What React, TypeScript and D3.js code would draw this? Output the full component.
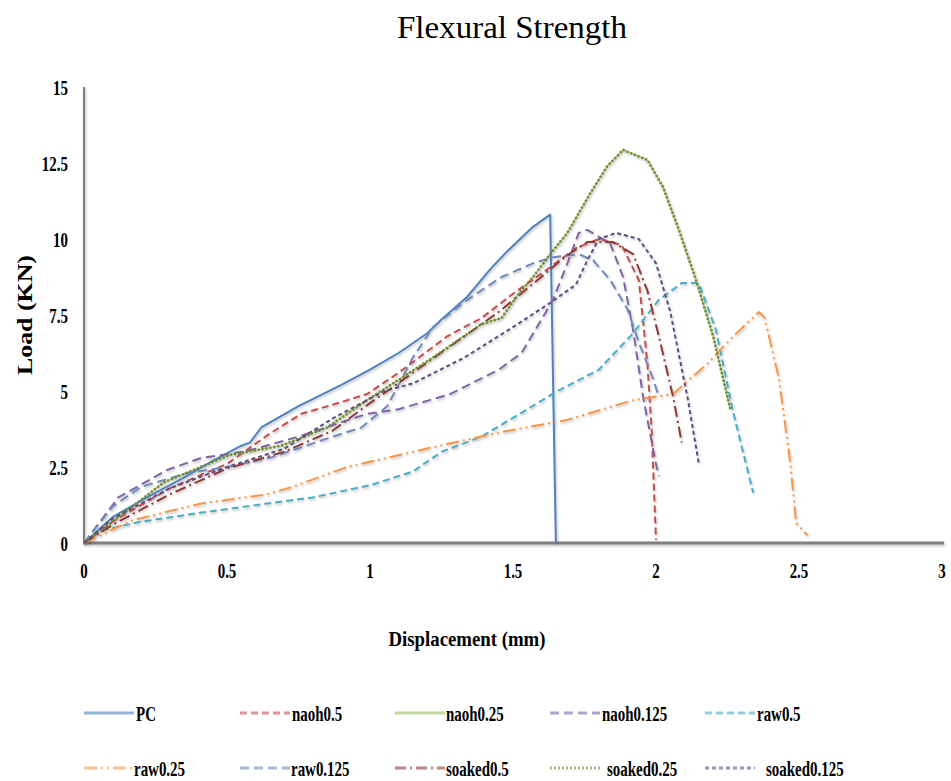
import React from "react";
import * as d3 from "d3";

// displacement (mm), load (kN) pairs
const pc = [
  [0, 0], [0.1, 0.85], [0.22, 1.5], [0.34, 2.1], [0.45, 2.7], [0.55, 3.2], [0.58, 3.3],
  [0.62, 3.8], [0.75, 4.5], [0.9, 5.2], [1.0, 5.7], [1.1, 6.25], [1.2, 6.9],
  [1.25, 7.35], [1.34, 8.1], [1.42, 9.0], [1.48, 9.6], [1.57, 10.4], [1.63, 10.8],
  [1.65, 0]
];
const naoh05 = [
  [0, 0], [0.1, 0.7], [0.3, 1.8], [0.5, 2.6], [0.65, 3.6], [0.76, 4.25], [0.87, 4.55],
  [0.99, 4.9], [1.1, 5.6], [1.27, 6.8], [1.39, 7.4], [1.5, 8.2], [1.62, 9.0],
  [1.72, 9.7], [1.8, 10.0], [1.88, 9.8], [1.94, 8.65], [1.97, 5.9], [1.985, 3.7],
  [2.0, 0.1]
];
const naoh025 = [
  [0, 0], [0.1, 0.7], [0.28, 2.0], [0.51, 2.9], [0.69, 3.2], [0.85, 3.8], [0.99, 4.7],
  [1.22, 6.1], [1.39, 7.2], [1.46, 7.4], [1.52, 8.2], [1.57, 8.75], [1.63, 9.5],
  [1.69, 10.2], [1.77, 11.5], [1.83, 12.4], [1.885, 12.93], [1.97, 12.6],
  [2.025, 11.7], [2.08, 10.3], [2.14, 8.65], [2.2, 6.8], [2.26, 4.4]
];
const naoh0125 = [
  [0, 0], [0.12, 1.5], [0.29, 2.4], [0.41, 2.8], [0.52, 2.95], [0.6, 3.1], [0.75, 3.5],
  [0.99, 4.25], [1.1, 4.4], [1.28, 4.9], [1.45, 5.7], [1.53, 6.25], [1.64, 8.0],
  [1.69, 9.2], [1.73, 10.2], [1.76, 10.3], [1.84, 9.85], [1.885, 8.75], [1.92, 7.0],
  [1.955, 4.8], [2.0, 2.6], [2.01, 2.2]
];
const raw05 = [
  [0, 0], [0.05, 0.4], [0.2, 0.7], [0.41, 1.0], [0.64, 1.3], [0.8, 1.5], [1.0, 1.9],
  [1.15, 2.35], [1.25, 3.0], [1.39, 3.5], [1.55, 4.4], [1.65, 4.97], [1.8, 5.7],
  [1.92, 6.9], [2.01, 8.0], [2.09, 8.55], [2.15, 8.55], [2.21, 7.0], [2.27, 4.3],
  [2.34, 1.65]
];
const raw025 = [
  [0, 0], [0.17, 0.75], [0.41, 1.3], [0.64, 1.6], [0.73, 1.85], [0.92, 2.5],
  [1.22, 3.15], [1.46, 3.65], [1.69, 4.05], [1.92, 4.7], [2.06, 4.9], [2.18, 5.9],
  [2.27, 6.8], [2.36, 7.6], [2.38, 7.4], [2.43, 5.4], [2.47, 2.6], [2.49, 0.65],
  [2.53, 0.25]
];
const raw0125 = [
  [0, 0], [0.1, 1.2], [0.2, 1.85], [0.36, 2.3], [0.5, 2.5], [0.65, 2.8], [0.76, 3.15],
  [0.87, 3.5], [0.97, 3.8], [1.06, 4.5], [1.15, 6.1], [1.22, 7.1], [1.34, 8.0],
  [1.46, 8.75], [1.57, 9.2], [1.64, 9.4], [1.73, 9.5], [1.78, 9.3], [1.84, 8.65],
  [1.9, 7.7], [1.94, 6.6], [1.99, 5.4], [2.01, 4.8]
];
const soaked05 = [
  [0, 0], [0.1, 0.6], [0.3, 1.6], [0.5, 2.45], [0.7, 3.0], [0.87, 3.7], [1.0, 4.6],
  [1.15, 5.6], [1.3, 6.6], [1.45, 7.6], [1.58, 8.6], [1.68, 9.4], [1.76, 9.9],
  [1.85, 9.9], [1.92, 9.5], [1.97, 8.3], [2.01, 6.8], [2.06, 4.8], [2.09, 3.3]
];
const soaked025 = [
  [0, 0], [0.1, 0.7], [0.28, 2.0], [0.51, 2.9], [0.69, 3.2], [0.85, 3.8], [0.99, 4.7],
  [1.22, 6.1], [1.39, 7.2], [1.46, 7.4], [1.52, 8.2], [1.57, 8.75], [1.63, 9.5],
  [1.69, 10.2], [1.77, 11.5], [1.83, 12.4], [1.885, 12.93], [1.97, 12.6],
  [2.025, 11.7], [2.08, 10.3], [2.14, 8.65], [2.2, 6.8], [2.26, 4.4]
];
const soaked0125 = [
  [0, 0], [0.1, 0.8], [0.3, 1.8], [0.5, 2.5], [0.7, 3.1], [0.87, 4.1], [1.05, 5.0],
  [1.15, 5.25], [1.33, 6.1], [1.5, 7.1], [1.63, 7.9], [1.72, 8.5], [1.76, 9.3],
  [1.8, 10.0], [1.86, 10.2], [1.94, 10.0], [2.0, 9.2], [2.05, 7.6], [2.11, 4.8],
  [2.15, 2.6]
];

const seriesNames = [
  "PC", "naoh0.5", "naoh0.25", "naoh0.125", "raw0.5",
  "raw0.25", "raw0.125", "soaked0.5", "soaked0.25", "soaked0.125"
];
const seriesData = [
  pc, naoh05, naoh025, naoh0125, raw05,
  raw025, raw0125, soaked05, soaked025, soaked0125
];
const colors = [
  "#4F81BD", "#C0504D", "#9BBB59", "#8064A2", "#4BACC6",
  "#F79646", "#7089B8", "#8E3A38", "#6F8A38", "#5F4B7D"
];
const dashes = [
  null, "7,4", null, "9,5", "7,4",
  "13,4,2,4,2,4", "9,5", "11,4,2,4", "2,2", "4,3"
];
const widths = [2, 2, 1.2, 2, 2, 2, 2, 2, 2.6, 2];
const xTicks = [0, 0.5, 1, 1.5, 2, 2.5, 3];
const yTicks = [0, 2.5, 5, 7.5, 10, 12.5, 15];
// legend column positions
const legendLineX = [84, 240, 395, 550, 705];
const legendTextX = [
  [136, 292, 446, 602, 757],
  [134, 291, 446, 607, 766]
];

const W = 951;
const H = 781;
const font = "'Liberation Serif', 'Times New Roman', serif";
const SX = 0.68;

export default function App() {
  const x = d3.scaleLinear().domain([0, 3]).range([84, 942]);
  const y = d3.scaleLinear().domain([0, 15]).range([543, 87]);
  const line = d3
    .line<number[]>()
    .x(d => x(d[0]))
    .y(d => y(d[1]));

  // draw order: green solid under the dotted one
  const order = [2, 0, 1, 3, 4, 5, 6, 7, 8, 9];

  return (
    <svg
      width={W}
      height={H}
      style={{ position: "absolute", left: 0, top: 0, background: "#fff" }}
    >
      <defs>
        <filter id="sh" x="-10%" y="-10%" width="120%" height="120%">
          <feDropShadow dx="1" dy="1.5" stdDeviation="1" floodColor="#000" floodOpacity="0.25" />
        </filter>
      </defs>
      <rect width={W} height={H} fill="#fff" />

      <text
        x={512}
        y={38}
        textAnchor="middle"
        fontFamily={font}
        fontSize={32}
        textLength={230}
        lengthAdjust="spacingAndGlyphs"
      >
        Flexural Strength
      </text>

      {/* axes */}
      <g filter="url(#sh)">
        <line x1={84} x2={84} y1={87} y2={543} stroke="#7f7f7f" strokeWidth={2} />
        <line x1={83} x2={944} y1={543} y2={543} stroke="#7f7f7f" strokeWidth={3} />
      </g>

      {yTicks.map(t => (
        <text
          key={"y" + t}
          x={68 / SX}
          y={y(t)}
          dy="0.35em"
          textAnchor="end"
          fontFamily={font}
          fontWeight="bold"
          fontSize={22}
          transform={`scale(${SX},1)`}
        >
          {t}
        </text>
      ))}
      {xTicks.map(t => (
        <text
          key={"x" + t}
          x={x(t) / SX}
          y={570}
          dy="0.35em"
          textAnchor="middle"
          fontFamily={font}
          fontWeight="bold"
          fontSize={22}
          transform={`scale(${SX},1)`}
        >
          {t}
        </text>
      ))}

      <text
        x={467}
        y={646}
        textAnchor="middle"
        fontFamily={font}
        fontWeight="bold"
        fontSize={20}
        textLength={157}
        lengthAdjust="spacingAndGlyphs"
      >
        Displacement (mm)
      </text>
      <text
        transform="translate(32,315) rotate(-90)"
        textAnchor="middle"
        fontFamily={font}
        fontWeight="bold"
        fontSize={20}
        textLength={120}
        lengthAdjust="spacingAndGlyphs"
      >
        Load (KN)
      </text>

      {/* series */}
      <g filter="url(#sh)">
        {order.map(i => (
          <path
            key={seriesNames[i]}
            d={line(seriesData[i]) || ""}
            fill="none"
            stroke={colors[i]}
            strokeWidth={widths[i]}
            strokeDasharray={dashes[i] || undefined}
            strokeLinejoin="round"
          />
        ))}
      </g>

      {/* legend */}
      {seriesNames.map((name, i) => {
        const col = i % 5;
        const row = Math.floor(i / 5);
        const lx = legendLineX[col];
        const ly = row === 0 ? 713 : 768;
        return (
          <g key={"lg" + name}>
            <line
              x1={lx}
              x2={lx + 50}
              y1={ly}
              y2={ly}
              stroke={colors[i]}
              strokeOpacity={0.6}
              strokeWidth={3}
              strokeDasharray={dashes[i] || undefined}
            />
            <text
              x={legendTextX[row][col] / SX}
              y={ly}
              dy="0.35em"
              fontFamily={font}
              fontWeight="bold"
              fontSize={22}
              transform={`scale(${SX},1)`}
            >
              {name}
            </text>
          </g>
        );
      })}
    </svg>
  );
}
